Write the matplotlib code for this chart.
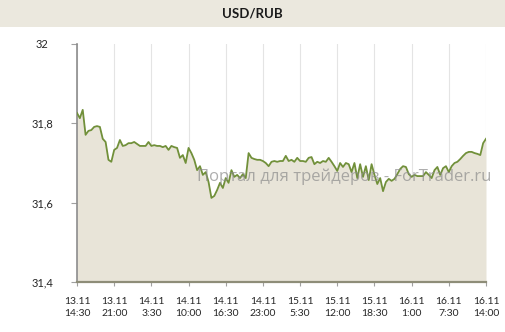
import matplotlib
matplotlib.use("Agg")
import matplotlib.pyplot as plt
from matplotlib.patches import Rectangle

# ---- data ----
title = "USD/RUB"
watermark = "Портал для трейдеров - ForTrader.ru"
values = [
    31.826, 31.813, 31.834, 31.771, 31.781, 31.783, 31.791, 31.793, 31.791, 31.761,
    31.753, 31.708, 31.703, 31.733, 31.738, 31.758, 31.743, 31.745, 31.750, 31.750,
    31.753, 31.748, 31.743, 31.743, 31.743, 31.753, 31.743, 31.745, 31.743, 31.743,
    31.740, 31.743, 31.733, 31.743, 31.740, 31.738, 31.713, 31.720, 31.700, 31.738,
    31.725, 31.708, 31.682, 31.692, 31.670, 31.677, 31.652, 31.612, 31.617, 31.632,
    31.650, 31.637, 31.662, 31.650, 31.682, 31.665, 31.670, 31.662, 31.672, 31.662,
    31.725, 31.713, 31.710, 31.708, 31.708, 31.705, 31.700, 31.692, 31.703, 31.705,
    31.703, 31.705, 31.705, 31.718, 31.705, 31.708, 31.703, 31.713, 31.705, 31.705,
    31.703, 31.713, 31.715, 31.697, 31.703, 31.700, 31.705, 31.703, 31.713, 31.703,
    31.692, 31.680, 31.700, 31.690, 31.700, 31.697, 31.677, 31.700, 31.662, 31.697,
    31.665, 31.692, 31.657, 31.697, 31.670, 31.647, 31.662, 31.629, 31.652, 31.660,
    31.655, 31.660, 31.672, 31.685, 31.692, 31.690, 31.672, 31.665, 31.670, 31.667,
    31.667, 31.667, 31.677, 31.670, 31.662, 31.682, 31.690, 31.670, 31.687, 31.692,
    31.677, 31.692, 31.700, 31.703, 31.710, 31.718, 31.725, 31.728, 31.728, 31.725,
    31.723, 31.720, 31.750, 31.761,
]
x_tick_labels = [
    "13.11\n14:30", "13.11\n21:00", "14.11\n3:30", "14.11\n10:00",
    "14.11\n16:30", "14.11\n23:00", "15.11\n5:30", "15.11\n12:00",
    "15.11\n18:30", "16.11\n1:00", "16.11\n7:30", "16.11\n14:00",
]
y_ticks = [31.4, 31.6, 31.8, 32.0]
y_tick_labels = ["31,4", "31,6", "31,8", "32"]
tick_step = 13  # half-hour points between labelled ticks

plt.rcParams['font.family'] = ['Lato', 'DejaVu Sans']

fig = plt.figure(figsize=(5.05, 3.32), dpi=100)
fig.patch.set_facecolor("white")

# title band
fig.add_artist(Rectangle((0, 1 - 27 / 332), 1, 27 / 332, transform=fig.transFigure,
                         facecolor="#ebe8de", edgecolor="none", zorder=0))
fig.text(0.5, 1 - 14 / 332, title, ha="center", va="center",
         fontsize=9.5, fontweight="bold", color="#1a1a1a")

ax = fig.add_axes([77 / 505, 1 - 282 / 332, (486 - 77) / 505, (282 - 44) / 332])
ax.set_facecolor("white")

xs = list(range(len(values)))
ax.fill_between(xs, values, 31.4, color="#e8e4d8", linewidth=0, zorder=1)
ax.plot(xs, values, color="#71903a", linewidth=1.3, zorder=4)

ax.set_xlim(0, len(values) - 1)
ax.set_ylim(31.4, 32.0)

xt = list(range(0, len(values), tick_step))
ax.set_xticks(xt)
ax.set_xticklabels(x_tick_labels, fontsize=7.5, color="#262626", linespacing=1.35)
ax.set_yticks(y_ticks)
ax.set_yticklabels(y_tick_labels, fontsize=8, color="#262626")
for lab in ax.get_yticklabels():
    lab.set_ha("center")

ax.tick_params(axis="x", length=3, width=0.8, color="#a0a0a0", pad=8)
ax.tick_params(axis="y", length=4, width=0.8, color="#a0a0a0", pad=21)

ax.grid(axis="x", color="#e4e4e4", linewidth=0.8, zorder=0)
ax.set_axisbelow(True)

for s in ["top", "right"]:
    ax.spines[s].set_visible(False)
ax.spines["left"].set_color("#8c8c8c")
ax.spines["left"].set_linewidth(1.2)
ax.spines["bottom"].set_color("#8e8d78")
ax.spines["bottom"].set_linewidth(1.6)
ax.spines["bottom"].set_zorder(5)

# watermark
fig.text(344 / 505, 1 - 177 / 332, watermark, ha="center", va="center",
         fontsize=12, color="#8c8c8c", alpha=0.7, zorder=3,
         family=["Open Sans", "DejaVu Sans"])

fig.savefig("out.png", dpi=100)
